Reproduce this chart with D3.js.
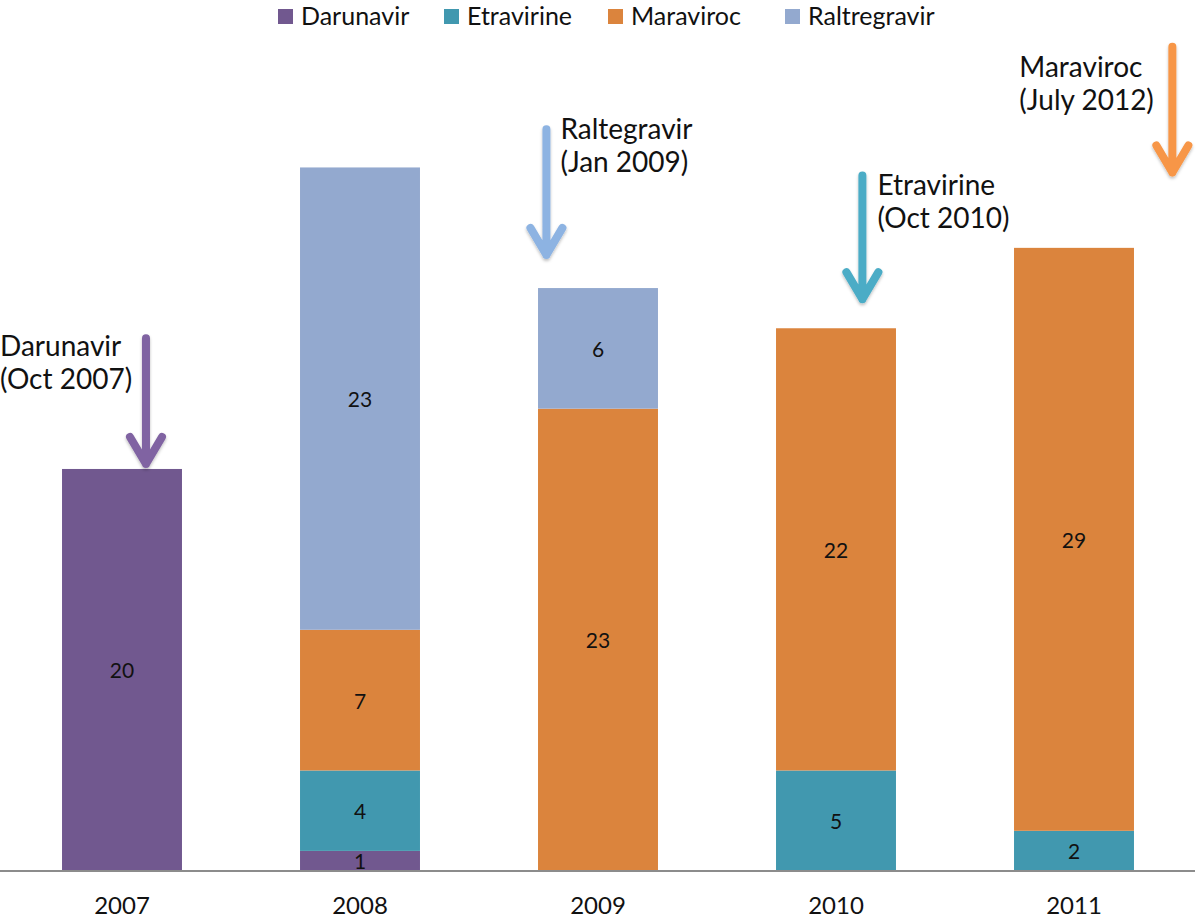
<!DOCTYPE html>
<html>
<head>
<meta charset="utf-8">
<script src="https://cdn.jsdelivr.net/npm/d3@7"></script>
<style>
  html, body { margin: 0; padding: 0; background: #fff; }
  svg { display: block; }
  text { font-family: Lato, "Open Sans", sans-serif; fill: #111; }
</style>
</head>
<body>
<svg id="chart" width="1200" height="918"></svg>
<script>
// ---- Data ----
const years = ["2007", "2008", "2009", "2010", "2011"];
const drugs = ["Darunavir", "Etravirine", "Maraviroc", "Raltregravir"];
const darunavir   = [20, 1, 0, 0, 0];
const etravirine  = [0, 4, 0, 5, 2];
const maraviroc   = [0, 7, 23, 22, 29];
const raltegravir = [0, 23, 6, 0, 0];
const seriesValues = [darunavir, etravirine, maraviroc, raltegravir];

// approvals (annotations)
const approvalNames = ["Darunavir", "Raltegravir", "Etravirine", "Maraviroc"];
const approvalDates = ["(Oct 2007)", "(Jan 2009)", "(Oct 2010)", "(July 2012)"];
const approvalYears = ["2007", "2009", "2010", "2011"];

// ---- Styles / layout ----
const barColors = ["#71588F", "#4198AF", "#DB843D", "#93A9CF"];
const arrowColors = ["#8064A2", "#8DB3E2", "#4BACC6", "#F79646"];
// annotation geometry: x as fraction of band from band start, y in data units,
// dx = text left edge relative to arrow shaft
const annLayout = [
  { frac: 0.70, top: 26.5, tip: 20.1, dx: -146, textY: 26.15 },
  { frac: 0.07, top: 36.9, tip: 30.5, dx: 14,   textY: 36.95 },
  { frac: 0.72, top: 34.6, tip: 28.3, dx: 15,   textY: 34.2 },
  { frac: 1.32, top: 41.0, tip: 34.6, dx: -153, textY: 40.05 }
];

const svg = d3.select("#chart");
const baseY = 871;

const x = d3.scaleBand().domain(years).range([3, 1193]).paddingInner(0.496).paddingOuter(0.248);
const y = d3.scaleLinear().domain([0, 43.33]).range([baseY, 0]);

const table = years.map((yr, i) => {
  const row = { year: yr };
  drugs.forEach((d, j) => row[d] = seriesValues[j][i]);
  return row;
});
const stacked = d3.stack().keys(drugs)(table);
const color = d3.scaleOrdinal().domain(drugs).range(barColors);

// bars
const layers = svg.append("g").selectAll("g").data(stacked).join("g")
  .attr("fill", d => color(d.key));
layers.selectAll("rect").data(d => d.filter(s => s[1] - s[0] > 0)).join("rect")
  .attr("x", d => x(d.data.year))
  .attr("width", x.bandwidth())
  .attr("y", d => y(d[1]))
  .attr("height", d => y(d[0]) - y(d[1]));

// data labels
layers.selectAll("text").data(d => d.filter(s => s[1] - s[0] > 0)).join("text")
  .attr("x", d => x(d.data.year) + x.bandwidth() / 2)
  .attr("y", d => (y(d[0]) + y(d[1])) / 2)
  .attr("text-anchor", "middle")
  .attr("dominant-baseline", "central")
  .attr("font-size", 21)
  .text(d => d[1] - d[0]);

// x axis
const axis = svg.append("g").attr("transform", `translate(0,${baseY})`)
  .call(d3.axisBottom(x).tickSize(0).tickPadding(26));
axis.select(".domain").attr("d", "M0,0H1195").attr("stroke", "#8c8c8c").attr("stroke-width", 2);
axis.selectAll("text").attr("font-size", 24).attr("fill", "#111")
  .style("font-family", "Lato, 'Open Sans', sans-serif");

// legend
const legend = svg.append("g");
const legendXs = [278, 444, 608, 785];
drugs.forEach((d, i) => {
  const g = legend.append("g").attr("transform", `translate(${legendXs[i]},0)`);
  g.append("rect").attr("x", 0).attr("y", 9).attr("width", 15).attr("height", 15).attr("fill", barColors[i]);
  g.append("text").attr("x", 23).attr("y", 15).attr("dominant-baseline", "central")
    .attr("font-size", 25).text(d);
});

// annotations
const defs = svg.append("defs");
const f = defs.append("filter").attr("id", "sh").attr("x", "-50%").attr("y", "-50%").attr("width", "200%").attr("height", "200%");
f.append("feDropShadow").attr("dx", 0).attr("dy", 2).attr("stdDeviation", 1.5).attr("flood-color", "#000").attr("flood-opacity", 0.25);

approvalNames.forEach((name, i) => {
  const L = annLayout[i];
  const ax = x(approvalYears[i]) + L.frac * x.bandwidth();
  const yTop = y(L.top), yTip = y(L.tip);
  svg.append("path")
    .attr("d", `M${ax},${yTop}V${yTip - 3}M${ax - 16},${yTip - 30}L${ax},${yTip - 3}L${ax + 16},${yTip - 30}`)
    .attr("fill", "none")
    .attr("stroke", arrowColors[i])
    .attr("stroke-width", 8)
    .attr("stroke-linecap", "round")
    .attr("stroke-linejoin", "round")
    .attr("filter", "url(#sh)");
  const tx = ax + L.dx;
  const t = svg.append("text")
    .attr("x", tx)
    .attr("text-anchor", "start")
    .attr("font-size", 28);
  const ty = y(L.textY);
  t.append("tspan").attr("x", tx).attr("y", ty).attr("dominant-baseline", "central").text(name);
  t.append("tspan").attr("x", tx).attr("y", ty + 33).attr("dominant-baseline", "central").text(approvalDates[i]);
});
</script>
</body>
</html>
